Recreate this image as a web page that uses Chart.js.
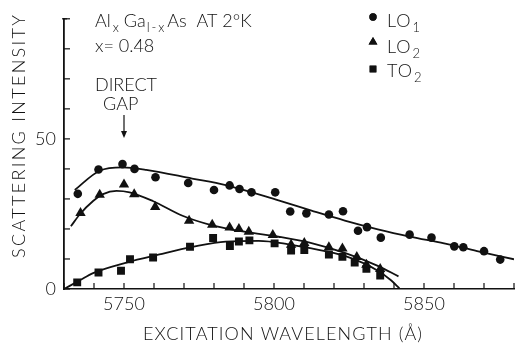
<!DOCTYPE html>
<html><head><meta charset="utf-8">
<script src="https://cdn.jsdelivr.net/npm/chart.js@4"></script>
<style>html,body{margin:0;padding:0;background:#fff}#wrap{width:520px;height:346px}</style>
</head><body><div id="wrap"><canvas id="c" width="520" height="346"></canvas></div>
<script>
// ---- data ----
const lo1X = [5734.6,5741.5,5749.5,5753.5,5760.5,5771.4,5780,5785.2,5788.5,5792.5,5800.4,5805.4,5810.8,5818.3,5823,5828,5831,5835.6,5845.2,5852.5,5860.1,5863.1,5870,5875.4];
const lo1Y = [31.7,39.8,41.6,40.0,37.2,35.3,33.0,34.5,33.3,32.2,32.2,25.8,25.2,24.8,25.9,19.4,20.6,17.1,18.1,17.1,14.2,13.9,12.6,9.8];
const lo2X = [5735.5,5741.9,5750,5753.4,5760.4,5771.7,5779.4,5785.2,5788.3,5791.6,5799.6,5805.7,5810.1,5818.3,5822.8,5827.6,5830.8,5835.4];
const lo2Y = [25.3,31.4,34.8,31.6,27.3,22.7,21.4,20.5,20.0,19.1,18.0,14.7,15.3,13.9,13.5,10.7,8.1,6.7];
const to2X = [5734.4,5741.5,5749,5752,5759.7,5772,5779.7,5785.3,5788.3,5791.8,5800.2,5805.7,5810.1,5818.3,5822.8,5826.9,5830.8,5835.4];
const to2Y = [2.2,5.5,6.1,9.9,10.5,14.1,17.0,14.3,15.8,16.2,15.2,12.8,13.0,11.5,10.7,8.8,6.7,4.5];
// hand-drawn fitted curves
const lo1FitX = [5733.6,5741.9,5749.5,5757.4,5772.7,5783.9,5801.5,5812.5,5823.6,5834.6,5845.6,5856.7,5867.7,5880];
const lo1FitY = [33.0,39.4,40.5,39.7,36.8,34.6,29.5,26.1,22.8,19.9,17.4,15.2,12.6,9.9];
const lo2FitX = [5732.3,5735.3,5739.7,5743,5747.5,5751.9,5759.6,5769.5,5779.4,5790.5,5801.5,5812.5,5823.6,5834.6,5841.5];
const lo2FitY = [20.9,24.9,29.3,31.6,32.7,32.2,29.3,24.4,21.2,19.0,17.4,15.3,12.0,7.7,4.2];
const to2FitX = [5730,5735.3,5739.7,5750.8,5761.8,5772.8,5783.9,5794.9,5804.8,5812.5,5823.6,5834.6,5839,5841.8];
const to2FitY = [0,2.9,5.3,8.8,11.5,14.0,15.8,16.0,14.9,13.5,11.0,6.1,2.9,0.2];
const xLabeled = [5750, 5800, 5850];
const yLabeled = [0, 50];
const seriesNames = [["LO","1"],["LO","2"],["TO","2"]];
const directGapX = 5750;

const pts = (xs, ys) => xs.map((x, i) => ({x, y: ys[i]}));
const INK = '#111';
const FONT = 'Lato';
const W = '300';

const scatterDs = (xs, ys, style, r) => ({
  data: pts(xs, ys), showLine: false, pointStyle: style, pointRadius: r,
  backgroundColor: INK, borderColor: INK, borderWidth: 0, pointHoverRadius: r
});
const fitDs = (xs, ys) => ({
  data: pts(xs, ys), showLine: true, pointRadius: 0, borderColor: INK, borderWidth: 1.8,
  cubicInterpolationMode: 'monotone', fill: false
});

function spacedText(ctx, txt, cx, y, target) {
  ctx.letterSpacing = '0px';
  const w = ctx.measureText(txt).width;
  const sp = Math.max(0, (target - w) / (txt.length - 1));
  ctx.letterSpacing = sp + 'px';
  const w2 = ctx.measureText(txt).width - sp;
  ctx.textAlign = 'left';
  ctx.fillText(txt, cx - w2 / 2, y);
  ctx.letterSpacing = '0px';
}
function runs(ctx, x, y, parts) {
  ctx.textAlign = 'left';
  for (const [t, sub, gap, ls] of parts) {
    ctx.font = W + (sub ? ' 13px ' : ' 18px ') + FONT;
    ctx.letterSpacing = (ls || 0) + 'px';
    ctx.fillText(t, x, y + (sub ? 5 : 0));
    x += ctx.measureText(t).width + (gap || 0);
    ctx.letterSpacing = '0px';
  }
}

const deco = {
  id: 'deco',
  afterDraw(chart) {
    const ctx = chart.ctx, xs = chart.scales.x, ys = chart.scales.y, a = chart.chartArea;
    ctx.save();
    ctx.strokeStyle = INK; ctx.fillStyle = INK; ctx.lineWidth = 1.2;
    xs.ticks.forEach(t => { const p = xs.getPixelForValue(t.value); ctx.beginPath(); ctx.moveTo(p, a.bottom); ctx.lineTo(p, a.bottom - 6); ctx.stroke(); });
    ys.ticks.forEach(t => { const p = ys.getPixelForValue(t.value); ctx.beginPath(); ctx.moveTo(a.left, p); ctx.lineTo(a.left + 6, p); ctx.stroke(); });
    ctx.beginPath(); ctx.moveTo(a.left - 2, a.top); ctx.lineTo(a.left + 3, a.top); ctx.stroke();
    ctx.textBaseline = 'alphabetic';
    ctx.font = W + ' 18px ' + FONT;
    spacedText(ctx, 'EXCITATION WAVELENGTH (Å)', 282.5, 340, 279);
    ctx.save(); ctx.translate(25, 136.5); ctx.rotate(-Math.PI / 2);
    spacedText(ctx, 'SCATTERING INTENSITY', 0, 0, 243);
    ctx.restore();
    runs(ctx, 95, 27, [['Al', false, 2], ['x', true, 5], ['Ga', false, 1], ['l-x', true, 1, 2], ['As  AT 2°K', false]]);
    ctx.font = W + ' 18px ' + FONT; ctx.textAlign = 'left';
    ctx.fillText('x= 0.48', 95, 52);
    ctx.fillText('DIRECT', 95, 91);
    ctx.fillText('GAP', 103, 110);
    const gx = xs.getPixelForValue(directGapX);
    ctx.lineWidth = 1.2;
    ctx.beginPath(); ctx.moveTo(gx, 115); ctx.lineTo(gx, 132); ctx.stroke();
    ctx.beginPath(); ctx.moveTo(gx - 3, 131); ctx.lineTo(gx + 3, 131); ctx.lineTo(gx, 138); ctx.closePath(); ctx.fill();
    const rowsY = [17, 42, 69], textY = [27, 53, 77];
    [0, 1, 2].forEach(i => {
      const ds = chart.data.datasets[i];
      Chart.helpers.drawPoint(ctx, {pointStyle: ds.pointStyle, radius: ds.pointRadius * 0.85, borderWidth: 0}, 373, rowsY[i]);
      ctx.fillStyle = INK; ctx.fill();
      runs(ctx, 387, textY[i], [[seriesNames[i][0], false, 1, 1], [seriesNames[i][1], true]]);
    });
    ctx.restore();
  }
};

new Chart(document.getElementById('c'), {
  type: 'scatter',
  data: { datasets: [
    scatterDs(lo1X, lo1Y, 'circle', 4.3),
    scatterDs(lo2X, lo2Y, 'triangle', 6),
    scatterDs(to2X, to2Y, 'rect', 5.6),
    fitDs(lo1FitX, lo1FitY),
    fitDs(lo2FitX, lo2FitY),
    fitDs(to2FitX, to2FitY)
  ]},
  options: {
    responsive: false, devicePixelRatio: 1, animation: false,
    layout: { padding: { top: 10, right: 0, left: 0, bottom: 0 } },
    plugins: { legend: { display: false }, tooltip: { enabled: false } },
    scales: {
      x: {
        type: 'linear', min: 5730, max: 5880,
        afterFit: s => { s.height = 57; },
        ticks: { stepSize: 10, autoSkip: false, maxRotation: 0, padding: 4, color: INK,
          font: { family: FONT, size: 18, weight: W },
          callback: v => xLabeled.includes(v) ? String(v) : '' },
        grid: { display: true, drawOnChartArea: false, drawTicks: false },
        border: { display: true, color: INK, width: 1.5 }
      },
      y: {
        min: 0, max: 90,
        afterFit: s => { s.width = 64; },
        ticks: { stepSize: 10, autoSkip: false, padding: 8, color: INK,
          font: { family: FONT, size: 18, weight: W },
          callback: v => yLabeled.includes(v) ? String(v) : '' },
        grid: { display: true, drawOnChartArea: false, drawTicks: false },
        border: { display: true, color: INK, width: 1.8 }
      }
    }
  },
  plugins: [deco]
});
</script></body></html>
